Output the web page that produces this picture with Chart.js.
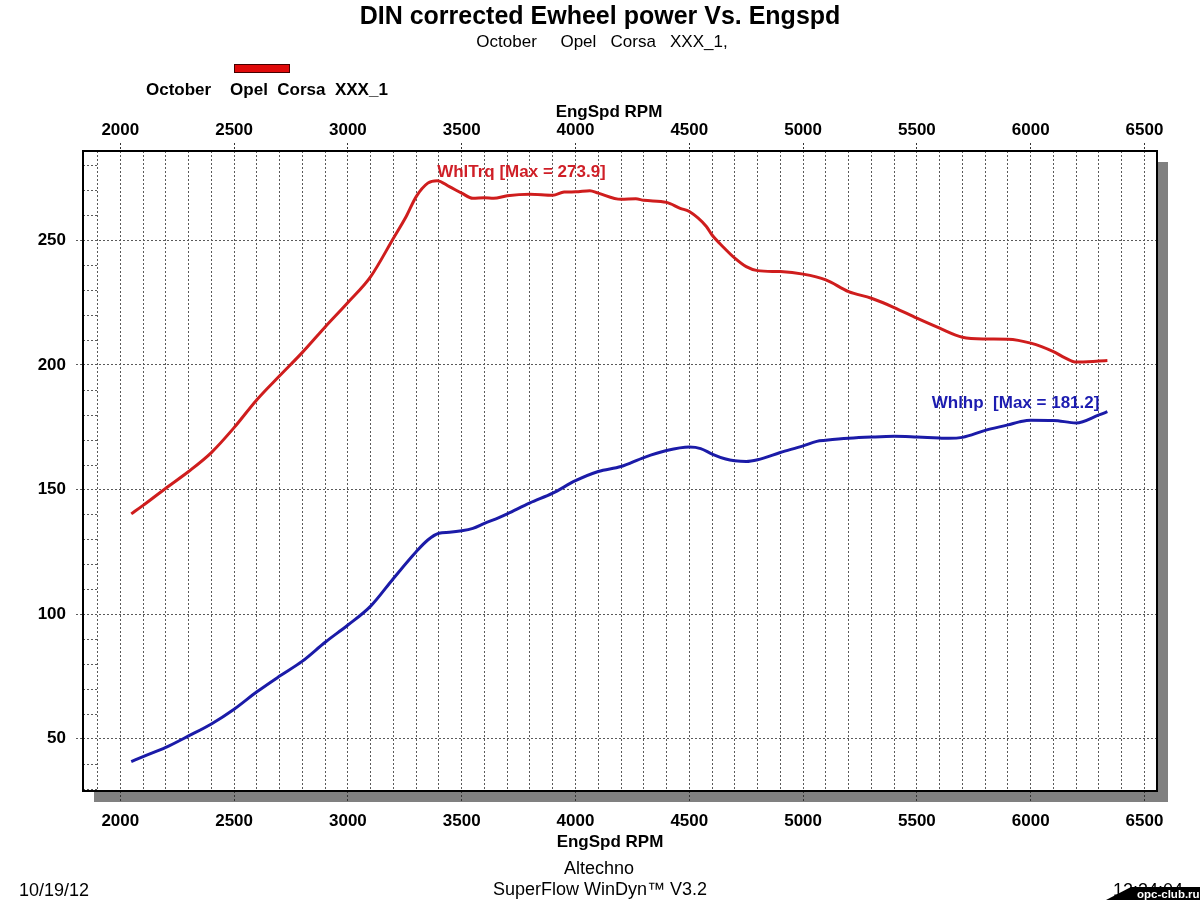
<!DOCTYPE html>
<html><head><meta charset="utf-8">
<script src="https://cdn.jsdelivr.net/npm/chart.js@4.4.1/dist/chart.umd.min.js"></script>
<style>html,body{margin:0;padding:0;background:#fff;}canvas{display:block;}</style>
</head><body>
<canvas id="c" width="1200" height="900"></canvas>
<script>
// ---- data ----
const trqRpm  = [2048,2100,2200,2300,2400,2500,2600,2700,2800,2900,3000,3100,3200,3256,3300,3351,3392,3446,3500,3549,3600,3640,3700,3800,3900,3950,4000,4063,4100,4200,4265,4300,4400,4460,4500,4575,4600,4650,4700,4750,4800,4900,5000,5100,5200,5300,5400,5500,5600,5700,5800,5900,6000,6100,6153,6200,6300,6337];
const trqVals = [140.2,143.6,150.5,157.2,164.8,174.8,186.0,195.6,205.0,215.2,225.0,235.4,250.8,259.5,267.5,272.9,273.9,271.5,268.9,266.8,267.0,266.8,267.8,268.4,268.0,269.3,269.4,269.9,268.9,266.4,266.6,266.0,265.2,262.8,261.5,255.5,252.1,247.2,242.8,239.4,237.8,237.4,236.4,234.1,229.4,226.7,223.0,218.7,214.7,211.1,210.4,210.3,208.7,205.3,202.7,201.1,201.5,201.7];
const hpRpm  = [2048,2100,2200,2300,2400,2500,2600,2700,2800,2900,3000,3100,3200,3300,3351,3400,3446,3500,3549,3600,3666,3700,3800,3900,4000,4100,4200,4300,4400,4500,4550,4600,4660,4700,4750,4800,4900,5000,5060,5100,5200,5300,5400,5500,5600,5640,5700,5800,5900,5950,6000,6100,6200,6300,6337];
const hpVals = [40.8,42.8,46.5,51.1,55.9,61.8,68.8,75.1,81.1,88.7,95.6,103.2,114.3,125.0,129.7,132.4,132.8,133.4,134.4,136.4,138.8,140.2,144.6,148.5,153.5,157.2,159.2,162.8,165.6,167.0,166.4,164.2,162.2,161.5,161.2,161.9,164.8,167.5,169.3,169.7,170.5,171.0,171.3,171.0,170.6,170.5,170.9,173.7,175.9,177.1,177.8,177.7,176.7,179.9,181.2];
const xTickLabels = [2000,2500,3000,3500,4000,4500,5000,5500,6000,6500];
const yTickLabels = [50,100,150,200,250];
const xRange = [1836, 6555];
const yRange = [29.0, 285.8];
const seriesNames = ['WhlTrq', 'Whlhp'];

const FONT = "'Liberation Sans', Arial, sans-serif";
const GRID = '#5a5a5a';

function pts(xs, ys){ return xs.map((x,i)=>({x:x, y:ys[i]})); }

const decor = {
  id:'decor',
  beforeDraw(chart){
    const {ctx, chartArea:a} = chart;
    ctx.save();
    ctx.fillStyle = '#808080';
    ctx.fillRect(a.left+11, a.top+11, a.right-a.left, a.bottom-a.top);
    ctx.fillStyle = '#ffffff';
    ctx.fillRect(a.left, a.top, a.right-a.left, a.bottom-a.top);
    ctx.restore();
  },
  beforeDatasetsDraw(chart){
    const {ctx, chartArea:a} = chart;
    const ys = chart.scales.y;
    ctx.save();
    ctx.strokeStyle = GRID; ctx.lineWidth = 1; ctx.setLineDash([2,2]);
    ys.ticks.forEach(t=>{
      if (t.value % 50 !== 0) {
        const p = Math.round(ys.getPixelForValue(t.value)) + 0.5;
        ctx.beginPath(); ctx.moveTo(a.left, p); ctx.lineTo(a.left+14, p); ctx.stroke();
      }
    });
    ctx.restore();
  },
  afterDraw(chart){
    const {ctx, chartArea:a} = chart;
    const xs = chart.scales.x, ys = chart.scales.y;
    ctx.save();
    // frame
    ctx.strokeStyle = '#000'; ctx.lineWidth = 2;
    ctx.strokeRect(a.left, a.top, a.right-a.left, a.bottom-a.top);
    // max labels
    ctx.font = 'bold 17px ' + FONT; ctx.textBaseline = 'alphabetic';
    let ti = trqVals.indexOf(Math.max(...trqVals));
    ctx.fillStyle = '#cf1f27'; ctx.textAlign = 'left';
    ctx.fillText(seriesNames[0] + ' [Max = ' + trqVals[ti].toFixed(1) + ']',
      xs.getPixelForValue(trqRpm[ti]), ys.getPixelForValue(trqVals[ti]) - 4);
    let hi = hpVals.indexOf(Math.max(...hpVals));
    ctx.fillStyle = '#1c1cb0'; ctx.textAlign = 'right';
    ctx.fillText(seriesNames[1] + '  [Max = ' + hpVals[hi].toFixed(1) + ']',
      xs.getPixelForValue(hpRpm[hi]) - 8, ys.getPixelForValue(hpVals[hi]) - 4);
    // titles
    ctx.fillStyle = '#000'; ctx.textAlign = 'center';
    ctx.font = 'bold 25px ' + FONT;
    ctx.fillText('DIN corrected Ewheel power Vs. Engspd', 600, 24);
    ctx.font = '17px ' + FONT;
    ctx.fillText('October     Opel   Corsa   XXX_1,', 602, 47);
    ctx.font = 'bold 17px ' + FONT;
    ctx.fillText('EngSpd RPM', 609, 117);
    ctx.fillText('EngSpd RPM', 610, 847);
    // legend
    ctx.fillStyle = '#e00a0a'; ctx.fillRect(234, 64, 56, 9);
    ctx.strokeStyle = '#400'; ctx.lineWidth = 1; ctx.strokeRect(234.5, 64.5, 55, 8);
    ctx.fillStyle = '#000'; ctx.textAlign = 'left';
    ctx.fillText('October    Opel  Corsa  XXX_1', 146, 95);
    // footer
    ctx.font = '18px ' + FONT; ctx.textAlign = 'center';
    ctx.fillText('Altechno', 599, 874);
    ctx.fillText('SuperFlow WinDyn\u2122 V3.2', 600, 895);
    ctx.textAlign = 'left';
    ctx.fillText('10/19/12', 19, 896);
    ctx.fillText('12:34:04', 1113, 896);
    // watermark
    ctx.fillStyle = '#000';
    ctx.beginPath(); ctx.moveTo(1106,900); ctx.lineTo(1131,887); ctx.lineTo(1200,887); ctx.lineTo(1200,900); ctx.closePath(); ctx.fill();
    ctx.fillStyle = '#fff'; ctx.font = 'bold 11.5px ' + FONT;
    ctx.fillText('opc-club.ru', 1137, 898);
    ctx.restore();
  }
};

function xTicks(axis){
  const t = [];
  for (let v = Math.ceil(axis.min/100)*100; v <= axis.max; v += 100) t.push({value:v});
  axis.ticks = t;
}
function xScale(pos, tl, pad, h){
  return {
    type:'linear', position:pos, min:xRange[0], max:xRange[1],
    afterBuildTicks: xTicks,
    afterFit(s){ s.height = h; },
    ticks:{ autoSkip:false, maxRotation:0, padding:pad, color:'#000',
      font:{family:FONT, size:17, weight:'bold'},
      callback:(v)=> xTickLabels.includes(v) ? String(v) : '' },
    grid:{ drawOnChartArea: pos==='bottom', color:GRID, lineWidth:1, tickLength:tl,
      tickColor:(c)=> (c.tick && xTickLabels.includes(c.tick.value)) ? '#333' : 'rgba(0,0,0,0)',
      tickBorderDash:[2,2] },
    border:{ display:false, dash:[2,2] }
  };
}

new Chart(document.getElementById('c'), {
  type:'line',
  data:{ datasets:[
    { label:seriesNames[0], data:pts(trqRpm, trqVals), borderColor:'#cf1d1d', borderWidth:3,
      pointRadius:0, tension:0.4, cubicInterpolationMode:'monotone', fill:false, xAxisID:'x', yAxisID:'y' },
    { label:seriesNames[1], data:pts(hpRpm, hpVals), borderColor:'#1b1ba8', borderWidth:3,
      pointRadius:0, tension:0.4, cubicInterpolationMode:'monotone', fill:false, xAxisID:'x', yAxisID:'y' }
  ]},
  options:{
    responsive:false, animation:false, devicePixelRatio:1,
    layout:{ padding:{ left:0, top:0, right:43, bottom:0 } },
    plugins:{ legend:{display:false}, title:{display:false}, tooltip:{enabled:false} },
    scales:{
      x: xScale('bottom', 11, 9, 109),
      x2: xScale('top', 8, 2, 151),
      y:{
        type:'linear', position:'left', min:yRange[0], max:yRange[1],
        afterBuildTicks(axis){ const t=[]; for(let v=30; v<=280; v+=10) t.push({value:v}); axis.ticks=t; },
        afterFit(s){ s.width = 83; },
        ticks:{ autoSkip:false, padding:10, color:'#000', font:{family:FONT, size:17, weight:'bold'},
          callback:(v)=> yTickLabels.includes(v) ? String(v) : '' },
        grid:{ color:(c)=> (c.tick && yTickLabels.includes(c.tick.value)) ? GRID : 'rgba(0,0,0,0)',
          lineWidth:1, tickLength:7,
          tickColor:(c)=> (c.tick && yTickLabels.includes(c.tick.value)) ? GRID : 'rgba(0,0,0,0)',
          tickBorderDash:[2,2] },
        border:{ display:false, dash:[2,2] }
      }
    }
  },
  plugins:[decor]
});
</script>
</body></html>
